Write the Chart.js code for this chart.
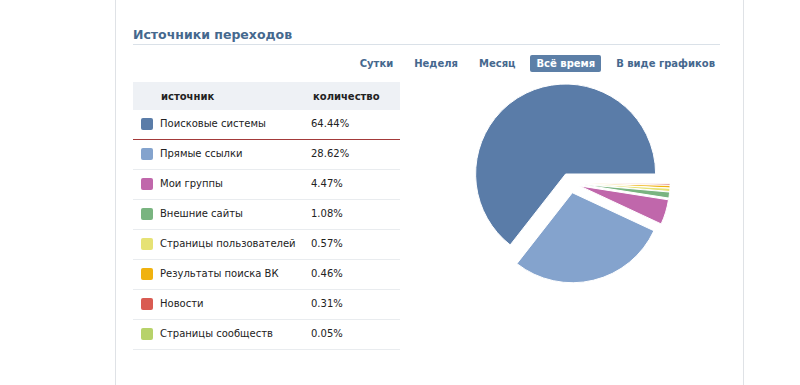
<!DOCTYPE html>
<html><head><meta charset="utf-8">
<script src="https://cdn.jsdelivr.net/npm/chart.js@4"></script>
<style>
html,body{margin:0;padding:0;background:#fff;}
body{width:800px;height:385px;overflow:hidden;position:relative;font-family:"DejaVu Sans",Verdana,sans-serif;color:#222;}
.abs{position:absolute;white-space:nowrap;}
#lborder{left:115px;top:0;width:1px;height:385px;background:#dfe2e6;}
#rborder{left:743px;top:0;width:1px;height:385px;background:#dfe2e6;}
#title{left:133px;top:26px;font-size:12.5px;font-weight:bold;color:#45688e;line-height:18px;}
#tline{left:133px;top:44px;width:587px;height:1px;background:#dae1e8;}
#tabs{right:79px;top:55px;display:flex;gap:9px;}
.tab{font-size:10px;font-weight:bold;color:#45688e;padding:0 6px;line-height:17px;height:17px;border-radius:2px;}
.tab.sel{background:#5c7fa7;color:#fff;}
#thead{left:133px;top:82px;width:267px;height:28px;background:#eef1f5;}
.hd{font-size:10px;font-weight:bold;color:#222;line-height:14px;}
.cell{font-size:10px;color:#222;line-height:14px;}
.sw{width:12px;height:12px;border-radius:2px;}
.sep{left:133px;width:267px;height:1px;background:#e9ecef;}
#chartbox{left:450px;top:63px;width:240px;height:240px;}
</style></head><body>
<div class="abs" id="lborder"></div>
<div class="abs" id="rborder"></div>
<div class="abs" id="title">Источники переходов</div>
<div class="abs" id="tline"></div>
<div class="abs" id="tabs"></div>
<div class="abs" id="thead"></div>
<div class="abs hd" style="left:161px;top:90px;">источник</div>
<div class="abs hd" style="left:313px;top:90px;">количество</div>
<div id="rows"></div>
<div class="abs" id="chartbox"><canvas id="c" width="240" height="240"></canvas></div>
<script>
const categories = ['Поисковые системы','Прямые ссылки','Мои группы','Внешние сайты','Страницы пользователей','Результаты поиска ВК','Новости','Страницы сообществ'];
const values = [64.44, 28.62, 4.47, 1.08, 0.57, 0.46, 0.31, 0.05];
const colors = ['#5a7ca8','#84a3cd','#c067ab','#79b480','#e6e275','#f0b20f','#d95b52','#b7d26a'];
const tabLabels = ['Сутки','Неделя','Месяц','Всё время','В виде графиков'];
const selectedTab = 'Всё время';

const tabsEl = document.getElementById('tabs');
tabLabels.forEach(t => {
  const d = document.createElement('div');
  d.className = 'tab' + (t === selectedTab ? ' sel' : '');
  d.textContent = t;
  tabsEl.appendChild(d);
});

const rowsEl = document.getElementById('rows');
categories.forEach((name, i) => {
  const cy = 124 + 30 * i;
  const sw = document.createElement('div');
  sw.className = 'abs sw';
  sw.style.left = '141px'; sw.style.top = (cy - 6) + 'px';
  sw.style.background = colors[i];
  rowsEl.appendChild(sw);
  const n = document.createElement('div');
  n.className = 'abs cell'; n.textContent = name;
  n.style.left = '160px'; n.style.top = (cy - 7) + 'px';
  rowsEl.appendChild(n);
  const v = document.createElement('div');
  v.className = 'abs cell'; v.textContent = values[i].toFixed(2) + '%';
  v.style.left = '311px'; v.style.top = (cy - 7) + 'px';
  rowsEl.appendChild(v);
  const s = document.createElement('div');
  s.className = 'abs sep';
  s.style.top = (cy + 15) + 'px';
  if (i === 0) s.style.background = '#a33a3a';
  rowsEl.appendChild(s);
});

// explode each slice along its mid-angle without changing its radius
const explode = {
  id: 'explode',
  afterDatasetsUpdate(chart) {
    const dist = 10;
    chart.getDatasetMeta(0).data.forEach(arc => {
      const mid = (arc.startAngle + arc.endAngle) / 2;
      arc.x += Math.cos(mid) * dist;
      arc.y += Math.sin(mid) * dist;
    });
  }
};

// pie is drawn clockwise from 3 o'clock with the order reversed so the slices run counter-clockwise
new Chart(document.getElementById('c'), {
  type: 'pie',
  data: {
    labels: categories.slice().reverse(),
    datasets: [{
      data: values.slice().reverse(),
      backgroundColor: colors.slice().reverse(),
      borderColor: '#ffffff',
      borderWidth: 1,
      radius: 90
    }]
  },
  options: {
    responsive: false,
    animation: false,
    rotation: 90,
    layout: {padding: 0},
    plugins: {legend: {display: false}, tooltip: {enabled: false}}
  },
  plugins: [explode]
});
</script>
</body></html>
